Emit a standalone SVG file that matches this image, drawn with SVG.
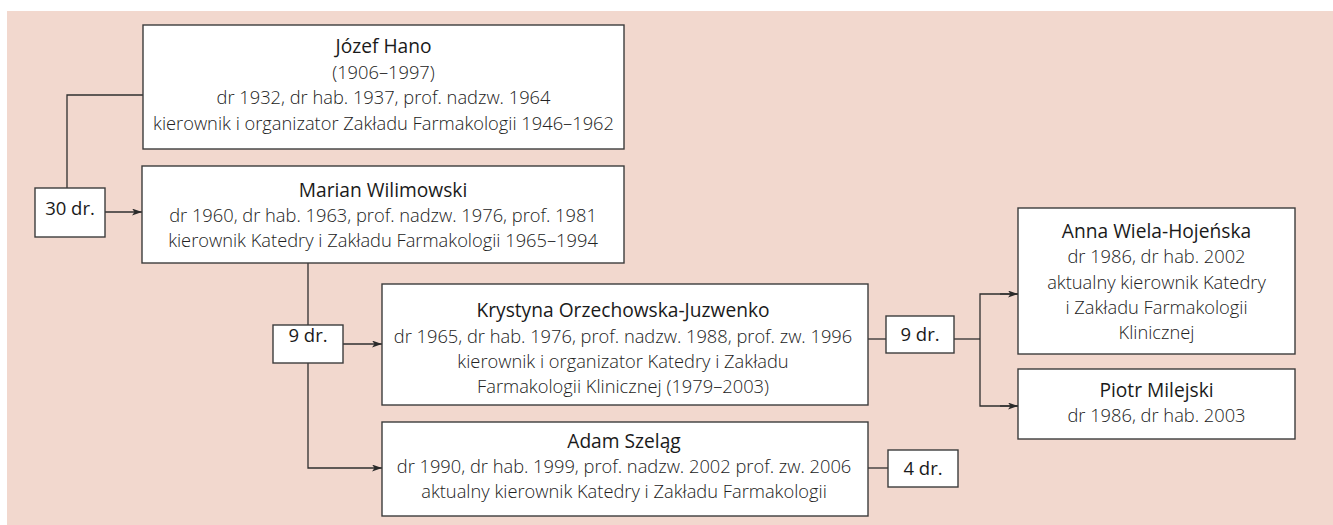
<svg xmlns="http://www.w3.org/2000/svg" width="1333" height="525" viewBox="0 0 1333 525">
  <defs>
    <marker id="arrow" viewBox="0 0 10 7" refX="10" refY="3.5" markerWidth="10" markerHeight="7" markerUnits="userSpaceOnUse" orient="auto">
      <path d="M0,0 L10,3.5 L0,7 L2.5,3.5 z" fill="#2a2a2a"/>
    </marker>
    <style>
      .bg { fill: #f2d8ce; }
      .box { fill: #ffffff; stroke: #3c3c3c; stroke-width: 1.4; }
      .conn { fill: none; stroke: #2f2f2f; stroke-width: 1.3; }
      text { font-family: "Open Sans", "Noto Sans", "Liberation Sans", sans-serif; text-anchor: middle; fill: #222222; }
      .name { font-size: 19.2px; font-weight: 400; fill: #1a1a1a; }
      .info { font-size: 18.3px; font-weight: 300; }
      .count { font-size: 18.5px; font-weight: 400; fill: #1a1a1a; }
    </style>
  </defs>

  <rect class="bg" x="7" y="11" width="1326" height="514"/>

  <!-- connectors -->
  <g id="connectors">
    <polyline class="conn" points="143,95 67,95 67,188"/>
    <line class="conn" x1="105" y1="212" x2="142" y2="212" marker-end="url(#arrow)"/>
    <line class="conn" x1="308" y1="263" x2="308" y2="325"/>
    <line class="conn" x1="343" y1="344" x2="382" y2="344" marker-end="url(#arrow)"/>
    <polyline class="conn" points="308,363 308,468 382,468" marker-end="url(#arrow)"/>
    <line class="conn" x1="868" y1="339" x2="886" y2="339"/>
    <line class="conn" x1="954" y1="339" x2="980" y2="339"/>
    <polyline class="conn" points="1018,294 980,294 980,406 1018,406"/>
    <line class="conn" x1="1000" y1="294" x2="1018" y2="294" marker-end="url(#arrow)"/>
    <line class="conn" x1="1000" y1="406" x2="1018" y2="406" marker-end="url(#arrow)"/>
    <line class="conn" x1="868" y1="468" x2="888" y2="468"/>
  </g>

  <!-- people -->
  <g id="hano">
    <rect class="box" x="143" y="25" width="481" height="124"/>
    <text class="name" x="383.5" y="53">Józef Hano</text>
    <text class="info" x="383.5" y="78.5">(1906–1997)</text>
    <text class="info" x="383.5" y="104">dr 1932, dr hab. 1937, prof. nadzw. 1964</text>
    <text class="info" x="383.5" y="129.5">kierownik i organizator Zakładu Farmakologii 1946–1962</text>
  </g>

  <g id="wilimowski">
    <rect class="box" x="142" y="166" width="482" height="97"/>
    <text class="name" x="383" y="197">Marian Wilimowski</text>
    <text class="info" x="383" y="222">dr 1960, dr hab. 1963, prof. nadzw. 1976, prof. 1981</text>
    <text class="info" x="383" y="247">kierownik Katedry i Zakładu Farmakologii 1965–1994</text>
  </g>

  <g id="orzechowska">
    <rect class="box" x="382" y="284" width="486" height="121"/>
    <text class="name" x="623" y="317">Krystyna Orzechowska-Juzwenko</text>
    <text class="info" x="623" y="342.5">dr 1965, dr hab. 1976, prof. nadzw. 1988, prof. zw. 1996</text>
    <text class="info" x="623" y="368">kierownik i organizator Katedry i Zakładu</text>
    <text class="info" x="623" y="393">Farmakologii Klinicznej (1979–2003)</text>
  </g>

  <g id="szelag">
    <rect class="box" x="382" y="422" width="486" height="94"/>
    <text class="name" x="624" y="448">Adam Szeląg</text>
    <text class="info" x="624" y="473">dr 1990, dr hab. 1999, prof. nadzw. 2002 prof. zw. 2006</text>
    <text class="info" x="624" y="498">aktualny kierownik Katedry i Zakładu Farmakologii</text>
  </g>

  <g id="wiela-hojenska">
    <rect class="box" x="1018" y="208" width="277" height="146"/>
    <text class="name" x="1156.5" y="238">Anna Wiela-Hojeńska</text>
    <text class="info" x="1156.5" y="263.3">dr 1986, dr hab. 2002</text>
    <text class="info" x="1156.5" y="288.6">aktualny kierownik Katedry</text>
    <text class="info" x="1156.5" y="313.9">i Zakładu Farmakologii</text>
    <text class="info" x="1156.5" y="339.2">Klinicznej</text>
  </g>

  <g id="milejski">
    <rect class="box" x="1018" y="369" width="277" height="70"/>
    <text class="name" x="1156.5" y="397">Piotr Milejski</text>
    <text class="info" x="1156.5" y="422">dr 1986, dr hab. 2003</text>
  </g>

  <!-- doctorate counts -->
  <g id="count-wilimowski">
    <rect class="box" x="35" y="188" width="70" height="49"/>
    <text class="count" x="70" y="215">30 dr.</text>
  </g>
  <g id="count-orzechowska">
    <rect class="box" x="273" y="325" width="70" height="38"/>
    <text class="count" x="308" y="342">9 dr.</text>
  </g>
  <g id="count-right">
    <rect class="box" x="886" y="316" width="68" height="37"/>
    <text class="count" x="920" y="341">9 dr.</text>
  </g>
  <g id="count-szelag">
    <rect class="box" x="888" y="450" width="70" height="37"/>
    <text class="count" x="923" y="475">4 dr.</text>
  </g>
</svg>
